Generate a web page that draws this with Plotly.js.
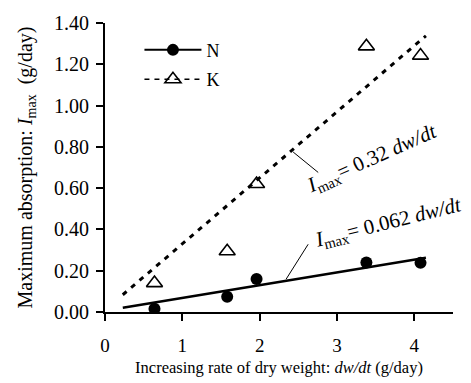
<!DOCTYPE html>
<html>
<head>
<meta charset="utf-8">
<script src="https://cdn.plot.ly/plotly-3.0.1.min.js"></script>
<style>html,body{margin:0;padding:0;background:#fff;}#chart{width:471px;height:383px;}</style>
</head>
<body>
<div id="chart"></div>
<script>
// Data
var dwdt = [0.64, 1.58, 1.96, 3.38, 4.08];
var nAbs = [0.016, 0.074, 0.16, 0.24, 0.238];
var kAbs = [0.14, 0.294, 0.62, 1.287, 1.242];
var nSlope = 0.062, nIntercept = 0.006;
var kSlope = 0.32, kIntercept = 0.01;
var fitRange = [0.23, 4.15];
var xTicks = [0, 1, 2, 3, 4];
var yTicks = [0, 0.2, 0.4, 0.6, 0.8, 1.0, 1.2, 1.4];
var yTickText = ['0.00','0.20','0.40','0.60','0.80','1.00','1.20','1.40'];

var font = 'Liberation Serif, Times New Roman, serif';
function fit(s, b) { return fitRange.map(function (x) { return s * x + b; }); }
var it = function (t) { return '<i>' + t + '</i>'; };

var traces = [
  {x: fitRange, y: fit(nSlope, nIntercept), mode: 'lines', line: {color: '#000', width: 2.5}, showlegend: false, hoverinfo: 'skip'},
  {x: fitRange, y: fit(kSlope, kIntercept), mode: 'lines', line: {color: '#000', width: 3, dash: '5px,6px'}, showlegend: false, hoverinfo: 'skip'},
  {x: dwdt, y: nAbs, mode: 'markers', marker: {symbol: 'circle', size: 12, color: '#000'}, showlegend: false},
  {x: dwdt, y: kAbs, mode: 'markers', marker: {symbol: 'triangle-up-open', size: 14, color: '#000', line: {width: 1.6, color: '#000'}}, showlegend: false},
  {x: [null], y: [null], name: 'N', mode: 'lines+markers', line: {color: '#000', width: 2}, marker: {symbol: 'circle', size: 12, color: '#000'}, legendgroup: 'a'},
  {x: [null], y: [null], name: 'K', mode: 'lines+markers', line: {color: '#000', width: 1.5, dash: '5px,5px'}, marker: {symbol: 'triangle-up-open', size: 14, color: '#000', line: {width: 1.6, color: '#000'}}, legendgroup: 'b'}
];

var layout = {
  width: 471, height: 383,
  margin: {l: 105, r: 18, t: 14, b: 71, pad: 0},
  paper_bgcolor: '#fff', plot_bgcolor: '#fff',
  font: {family: font, size: 16, color: '#000'},
  showlegend: true,
  legend: {x: 0.099, y: 0.97, xanchor: 'left', yanchor: 'top', bgcolor: 'rgba(0,0,0,0)', itemwidth: 57, tracegroupgap: 3, traceorder: 'grouped', font: {family: font, size: 18, color: '#000'}},
  xaxis: {
    range: [0, 4.5], tickvals: xTicks, ticktext: xTicks.map(String),
    showgrid: false, zeroline: false, showline: true, linecolor: '#000', linewidth: 2,
    ticks: 'outside', ticklen: 7, tickwidth: 2, tickcolor: '#000', ticklabelstandoff: 8,
    tickfont: {family: font, size: 19, color: '#000'},
    title: {text: 'Increasing rate of dry weight: ' + it('dw/dt') + ' (g/day)', font: {family: font, size: 16.5, color: '#000'}}
  },
  yaxis: {
    range: [0, 1.4], tickvals: yTicks, ticktext: yTickText,
    showgrid: false, zeroline: false, showline: true, linecolor: '#000', linewidth: 2,
    ticks: 'outside', ticklen: 7, tickwidth: 2, tickcolor: '#000', ticklabelstandoff: 3,
    tickfont: {family: font, size: 20, color: '#000'},
    automargin: true,
    title: {text: 'Maximum absorption: ' + it('I') + '<sub>max</sub>  (g/day)', font: {family: font, size: 20, color: '#000'}, standoff: 16}
  },
  annotations: [
    {x: 3.45, y: 0.742, xref: 'x', yref: 'y', showarrow: false, textangle: -24,
     text: it('I') + '<sub>max</sub>= 0.32 ' + it('dw/dt'), font: {family: font, size: 21, color: '#000'}},
    {x: 3.66, y: 0.431, xref: 'x', yref: 'y', showarrow: false, textangle: -14,
     text: it('I') + '<sub>max</sub>= 0.062 ' + it('dw/dt'), font: {family: font, size: 21, color: '#000'}}
  ],
  shapes: [
    {type: 'line', xref: 'x', yref: 'y', x0: 2.433, y0: 0.775, x1: 2.757, y1: 0.676, line: {color: '#000', width: 1}},
    {type: 'line', xref: 'x', yref: 'y', x0: 2.627, y0: 0.328, x1: 2.342, y1: 0.159, line: {color: '#000', width: 1}}
  ]
};

Plotly.newPlot('chart', traces, layout, {staticPlot: true, displayModeBar: false});
</script>
</body>
</html>
